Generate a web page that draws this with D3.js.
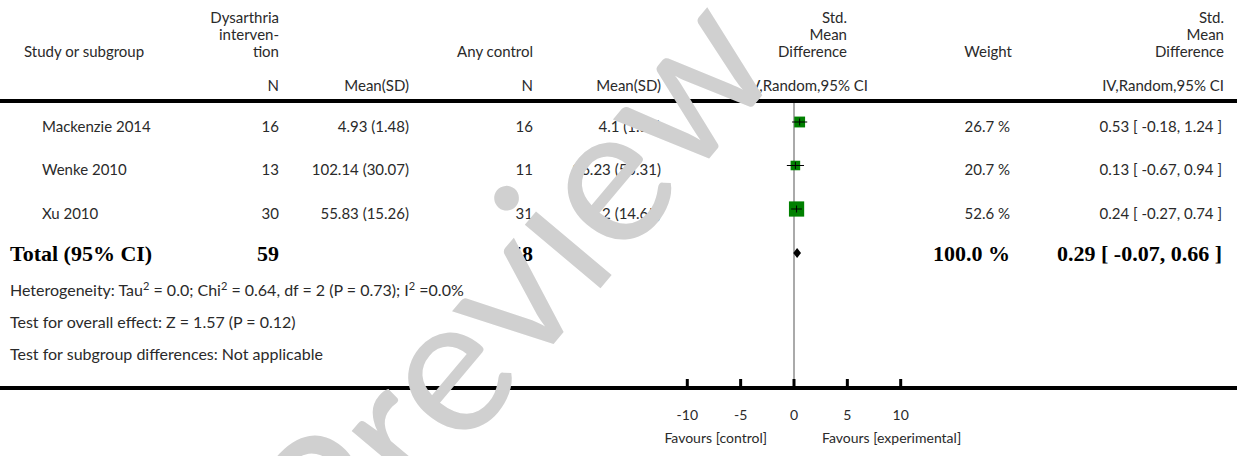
<!DOCTYPE html>
<html>
<head>
<meta charset="utf-8">
<script src="https://cdn.jsdelivr.net/npm/d3@7"></script>
<style>
  html, body { margin: 0; padding: 0; background: #fff; }
  svg { display: block; }
  text { font-family: Lato, "Open Sans", sans-serif; fill: #2a2a2a; }
</style>
</head>
<body>
<div id="forest"></div>
<script>
const W = 1237, H = 456;

// study rows
const studies = ["Mackenzie 2014", "Wenke 2010", "Xu 2010"];
const expN = [16, 13, 30];
const expMean = ["4.93", "102.14", "55.83"];
const expSD = ["1.48", "30.07", "15.26"];
const ctrlN = [16, 11, 31];
const ctrlMean = ["4.1", "96.23", "52.2"];
const ctrlSD = ["1.57", "55.31", "14.65"];
const smd = [0.53, 0.13, 0.24];
const ciLow = [-0.18, -0.67, -0.27];
const ciHigh = [1.24, 0.94, 0.74];
const weights = [26.7, 20.7, 52.6];

// pooled
const totalExpN = 59, totalCtrlN = 58;
const totalSmd = 0.29, totalLow = -0.07, totalHigh = 0.66, totalWeight = 100.0;

const axisTicks = [-10, -5, 0, 5, 10];
const footLines = [
  [["Heterogeneity: Tau", ""], ["2", "sup"], [" = 0.0; Chi", ""], ["2", "sup"], [" = 0.64, df = 2 (P = 0.73); I", ""], ["2", "sup"], [" =0.0%", ""]],
  [["Test for overall effect: Z = 1.57 (P = 0.12)", ""]],
  [["Test for subgroup differences: Not applicable", ""]]
];

const svg = d3.select("#forest").append("svg")
    .attr("width", W).attr("height", H);

const x = d3.scaleLinear().domain([-10, 10]).range([687.3, 900.7]);
const rowY = d3.scalePoint().domain(studies).range([122, 209]);
const side = d3.scaleSqrt().domain([0, 100]).range([0, 21]);

function txt(xp, yp, s, anchor) {
    return svg.append("text")
        .attr("x", xp).attr("y", yp)
        .attr("text-anchor", anchor || "start")
        .style("font-size", "15px")
        .text(s);
}

// header
const head = [
    {x: 24, lines: ["", "", "Study or subgroup"], anchor: "start"},
    {x: 279, lines: ["Dysarthria", "interven-", "tion"], anchor: "end"},
    {x: 533, lines: ["", "", "Any control"], anchor: "end"},
    {x: 847, lines: ["Std.", "Mean", "Difference"], anchor: "end"},
    {x: 1012, lines: ["", "", "Weight"], anchor: "end"},
    {x: 1224, lines: ["Std.", "Mean", "Difference"], anchor: "end"}
];
const headY = [23, 40, 57];
head.forEach(h => h.lines.forEach((l, i) => { if (l) txt(h.x, headY[i], l, h.anchor); }));

const sub = [[279, "N"], [409, "Mean(SD)"], [533, "N"], [661, "Mean(SD)"], [868, "IV,Random,95% CI"], [1224, "IV,Random,95% CI"]];
sub.forEach(s => txt(s[0], 91, s[1], "end"));

// rules
svg.append("line").attr("x1", 0).attr("x2", W).attr("y1", 101).attr("y2", 101)
    .attr("stroke", "#000").attr("stroke-width", 4);
svg.append("line").attr("x1", 0).attr("x2", W).attr("y1", 388).attr("y2", 388)
    .attr("stroke", "#000").attr("stroke-width", 4);
svg.append("line").attr("x1", x(0)).attr("x2", x(0)).attr("y1", 103).attr("y2", 386)
    .attr("stroke", "#aaa").attr("stroke-width", 2);

// study rows
studies.forEach((s, i) => {
    const b = rowY(s) + 9.5;
    txt(42, b, s, "start");
    txt(279, b, expN[i], "end");
    txt(409, b, expMean[i] + " (" + expSD[i] + ")", "end");
    txt(533, b, ctrlN[i], "end");
    txt(661, b, ctrlMean[i] + " (" + ctrlSD[i] + ")", "end");
    txt(1010, b, weights[i].toFixed(1) + " %", "end");
    txt(1222, b, smd[i].toFixed(2) + " [ " + ciLow[i].toFixed(2) + ", " + ciHigh[i].toFixed(2) + " ]", "end");
});

const marks = svg.append("g");
marks.selectAll("rect.box").data(studies).enter().append("rect")
    .attr("class", "box")
    .attr("x", (d, i) => x(smd[i]) - side(weights[i]) / 2)
    .attr("y", (d, i) => rowY(d) - side(weights[i]) / 2)
    .attr("width", (d, i) => side(weights[i]))
    .attr("height", (d, i) => side(weights[i]))
    .attr("fill", "#008000");
marks.selectAll("line.ci").data(studies).enter().append("line")
    .attr("class", "ci")
    .attr("x1", (d, i) => x(ciLow[i])).attr("x2", (d, i) => x(ciHigh[i]))
    .attr("y1", d => rowY(d)).attr("y2", d => rowY(d))
    .attr("stroke", "#000").attr("stroke-width", 1);
marks.selectAll("line.pt").data(studies).enter().append("line")
    .attr("class", "pt")
    .attr("x1", (d, i) => x(smd[i])).attr("x2", (d, i) => x(smd[i]))
    .attr("y1", d => rowY(d) - 3.5).attr("y2", d => rowY(d) + 3.5)
    .attr("stroke", "#000").attr("stroke-width", 1);

// total row
const totY = 253;
function bold(xp, s, anchor) {
    svg.append("text").attr("x", xp).attr("y", 261)
        .attr("text-anchor", anchor)
        .style("font-family", "'Liberation Serif', 'DejaVu Serif', serif")
        .style("font-weight", "bold").style("font-size", "22px").style("fill", "#000")
        .text(s);
}
bold(10, "Total (95% CI)", "start");
bold(279, totalExpN, "end");
bold(533, totalCtrlN, "end");
bold(1010, totalWeight.toFixed(1) + " %", "end");
bold(1222, totalSmd.toFixed(2) + " [ " + totalLow.toFixed(2) + ", " + totalHigh.toFixed(2) + " ]", "end");

marks.append("path")
    .attr("d", d3.line()([[x(totalLow), totY], [x(totalSmd), totY - 5], [x(totalHigh), totY], [x(totalSmd), totY + 5]]) + "Z")
    .attr("fill", "#000");

// footnotes
const footY = [296, 328, 360];
footLines.forEach((parts, i) => {
    const t = svg.append("text").attr("x", 10).attr("y", footY[i]).style("font-size", "16px");
    parts.forEach(p => {
        const ts = t.append("tspan").text(p[0]);
        if (p[1] === "sup") ts.attr("dy", -6).style("font-size", "11px");
        else if (ts.node().previousSibling) ts.attr("dy", 6);
    });
});

// axis
const axis = svg.append("g").attr("transform", "translate(0,386)");
axis.selectAll("line").data(axisTicks).enter().append("line")
    .attr("x1", d => x(d)).attr("x2", d => x(d)).attr("y1", 0).attr("y2", -7)
    .attr("stroke", "#000").attr("stroke-width", 3);
axis.selectAll("text").data(axisTicks).enter().append("text")
    .attr("x", d => x(d)).attr("y", 34)
    .attr("text-anchor", "middle").style("font-size", "14px")
    .text(d => d);
txt(x(0) - 27, 443, "Favours [control]", "end").style("font-size", "14px");
txt(x(0) + 28, 443, "Favours [experimental]", "start").style("font-size", "14px");

// watermark: place so the second "e" sits where it does in the picture
const wmSize = 195, wmAngle = -50, wmTarget = [615, 192];
const wm = svg.append("text")
    .style("font-size", wmSize + "px")
    .style("fill", "#d0d0d0")
    .text("Preview");
const ext = wm.node().getExtentOfChar(5);
const cx = ext.x + ext.width / 2, cy = -0.26 * wmSize;
const a = wmAngle * Math.PI / 180;
const tx = wmTarget[0] - (cx * Math.cos(a) - cy * Math.sin(a));
const ty = wmTarget[1] - (cx * Math.sin(a) + cy * Math.cos(a));
wm.attr("transform", "translate(" + tx + "," + ty + ") rotate(" + wmAngle + ")");
</script>
</body>
</html>
